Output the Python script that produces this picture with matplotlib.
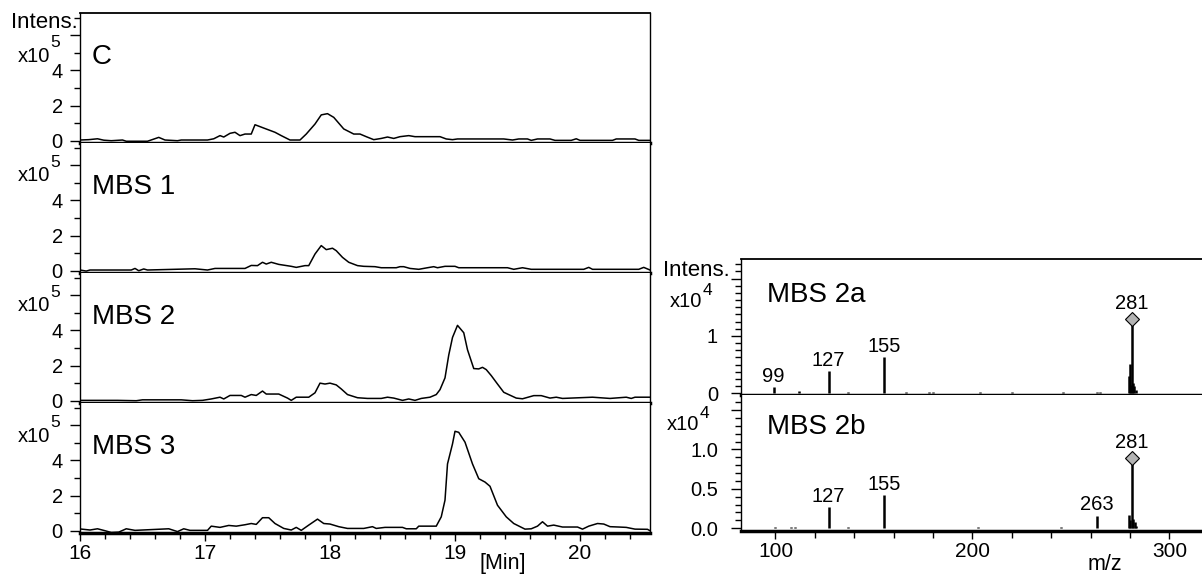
import matplotlib
matplotlib.use("Agg")
import matplotlib.pyplot as plt
from matplotlib.ticker import FixedLocator, FixedFormatter, MultipleLocator
from matplotlib.transforms import offset_copy

plt.rcParams["font.family"] = ["Liberation Sans", "DejaVu Sans"]

# extracted ion chromatograms, intensity in x10^5
c_time = [16.00, 16.07, 16.14, 16.19, 16.25, 16.34, 16.37, 16.54, 16.63, 16.68, 16.78, 16.81,
          17.02, 17.07, 17.12, 17.15, 17.20, 17.24, 17.28, 17.32, 17.37, 17.40, 17.47, 17.56,
          17.61, 17.68, 17.76, 17.81, 17.88, 17.93, 17.98, 18.03, 18.11, 18.19, 18.24, 18.29,
          18.35, 18.41, 18.46, 18.51, 18.56, 18.63, 18.68, 18.88, 18.93, 18.98, 19.02, 19.39,
          19.46, 19.51, 19.58, 19.61, 19.66, 19.76, 19.80, 19.93, 19.97, 20.00, 20.26, 20.29,
          20.44, 20.47, 20.56]
c_int = [0.04, 0.06, 0.11, 0.03, 0.0, 0.04, -0.03, -0.03, 0.19, 0.04, 0.0, 0.04,
         0.04, 0.11, 0.29, 0.21, 0.42, 0.48, 0.29, 0.38, 0.38, 0.91, 0.72, 0.48,
         0.29, 0.04, 0.04, 0.38, 0.95, 1.47, 1.54, 1.33, 0.67, 0.38, 0.38, 0.23,
         0.06, 0.13, 0.21, 0.13, 0.23, 0.29, 0.23, 0.23, 0.10, 0.06, 0.10, 0.10,
         0.04, 0.10, 0.10, 0.02, 0.10, 0.10, 0.02, 0.02, 0.11, 0.02, 0.02, 0.10,
         0.10, 0.02, 0.02]

mbs1_time = [16.00, 16.05, 16.08, 16.41, 16.44, 16.47, 16.51, 16.54, 16.92, 17.02, 17.08, 17.32,
             17.37, 17.42, 17.46, 17.49, 17.53, 17.59, 17.69, 17.73, 17.80, 17.83, 17.88, 17.93,
             17.97, 18.02, 18.05, 18.10, 18.15, 18.22, 18.27, 18.36, 18.41, 18.53, 18.56, 18.59,
             18.64, 18.71, 18.78, 18.83, 18.86, 18.92, 19.00, 19.03, 19.42, 19.47, 19.54, 19.61,
             20.03, 20.07, 20.10, 20.47, 20.51, 20.56]
mbs1_int = [0.04, -0.02, 0.04, 0.04, 0.13, 0.0, 0.10, 0.04, 0.11, 0.04, 0.13, 0.13,
            0.30, 0.29, 0.48, 0.38, 0.48, 0.36, 0.25, 0.19, 0.29, 0.29, 0.95, 1.43,
            1.20, 1.28, 1.14, 0.76, 0.48, 0.29, 0.25, 0.23, 0.17, 0.17, 0.23, 0.23,
            0.13, 0.08, 0.17, 0.23, 0.17, 0.25, 0.25, 0.17, 0.17, 0.08, 0.17, 0.08,
            0.08, 0.19, 0.08, 0.08, 0.19, 0.04]

mbs2_time = [16.00, 16.30, 16.45, 16.50, 16.81, 16.90, 16.98, 17.05, 17.12, 17.15, 17.20, 17.29,
             17.32, 17.37, 17.41, 17.46, 17.49, 17.59, 17.66, 17.69, 17.73, 17.83, 17.88, 17.92,
             17.96, 18.00, 18.05, 18.09, 18.14, 18.22, 18.30, 18.41, 18.46, 18.51, 18.58, 18.63,
             18.68, 18.73, 18.80, 18.85, 18.88, 18.92, 18.95, 18.98, 19.02, 19.07, 19.10, 19.15,
             19.19, 19.22, 19.25, 19.29, 19.34, 19.39, 19.42, 19.49, 19.54, 19.63, 19.69, 19.76,
             19.81, 19.86, 20.10, 20.24, 20.37, 20.41, 20.44, 20.56]
mbs2_int = [0.02, 0.02, 0.0, 0.05, 0.05, 0.0, 0.02, 0.10, 0.20, 0.10, 0.30, 0.30,
            0.20, 0.35, 0.30, 0.55, 0.38, 0.38, 0.15, 0.02, 0.20, 0.20, 0.45, 1.00,
            0.95, 1.00, 0.90, 0.67, 0.35, 0.17, 0.13, 0.13, 0.20, 0.15, 0.02, 0.10,
            0.02, 0.13, 0.20, 0.35, 0.63, 1.30, 2.60, 3.60, 4.29, 3.87, 2.90, 1.83,
            1.81, 1.90, 1.77, 1.43, 0.95, 0.48, 0.38, 0.15, 0.11, 0.29, 0.29, 0.15,
            0.20, 0.13, 0.20, 0.13, 0.20, 0.13, 0.20, 0.20]

mbs3_time = [16.00, 16.08, 16.14, 16.20, 16.25, 16.31, 16.37, 16.44, 16.71, 16.78, 16.83, 16.88,
             17.02, 17.05, 17.12, 17.19, 17.25, 17.32, 17.37, 17.41, 17.46, 17.51, 17.56, 17.63,
             17.69, 17.73, 17.77, 17.83, 17.90, 17.95, 18.00, 18.07, 18.14, 18.27, 18.34, 18.37,
             18.44, 18.58, 18.61, 18.69, 18.71, 18.85, 18.89, 18.92, 18.94, 18.98, 19.00, 19.03,
             19.08, 19.14, 19.19, 19.24, 19.28, 19.34, 19.41, 19.47, 19.56, 19.61, 19.66, 19.70,
             19.74, 19.79, 19.86, 19.98, 20.02, 20.07, 20.14, 20.19, 20.24, 20.31, 20.37, 20.44,
             20.54, 20.56]
mbs3_int = [0.10, 0.04, 0.11, 0.0, -0.10, -0.08, 0.11, 0.02, 0.11, -0.05, 0.11, 0.02,
            0.02, 0.26, 0.19, 0.30, 0.26, 0.34, 0.41, 0.36, 0.74, 0.74, 0.41, 0.13,
            0.04, 0.19, 0.02, 0.32, 0.66, 0.41, 0.38, 0.23, 0.13, 0.13, 0.23, 0.13,
            0.19, 0.19, 0.11, 0.11, 0.26, 0.26, 0.79, 1.74, 3.80, 4.94, 5.66, 5.60,
            5.04, 3.80, 2.96, 2.77, 2.53, 1.45, 0.79, 0.41, 0.09, 0.11, 0.26, 0.51,
            0.26, 0.32, 0.21, 0.21, 0.09, 0.26, 0.41, 0.38, 0.23, 0.21, 0.19, 0.09,
            0.08, 0.0]

chrom_names = ["C", "MBS 1", "MBS 2", "MBS 3"]

# mass spectra, intensity in x10^4
ms2a_mz = [99, 112, 127, 137, 155, 166, 178, 180, 204, 220, 246, 263, 264.5,
           279.3, 279.7, 280.3, 281, 281.6, 282.2, 282.8]
ms2a_int = [0.11, 0.04, 0.38, 0.02, 0.63, 0.02, 0.02, 0.02, 0.02, 0.02, 0.02, 0.02, 0.02,
            0.30, 0.51, 0.15, 1.19, 0.18, 0.12, 0.05]
ms2a_labels = [99, 127, 155, 281]

ms2b_mz = [100, 108, 110, 127, 137, 155, 203, 245, 263,
           279.6, 280.2, 281, 281.6, 282.3, 282.9]
ms2b_int = [0.02, 0.02, 0.02, 0.27, 0.02, 0.42, 0.02, 0.02, 0.16,
            0.17, 0.10, 0.82, 0.12, 0.08, 0.03]
ms2b_labels = [127, 155, 263, 281]

precursor_mz = 281

W, H = 1202, 574


def fx(px):
    return px / W


def fy(py):
    return 1 - py / H


def frame(ax, first, last):
    ax.spines["left"].set_linewidth(1.0)
    ax.spines["right"].set_linewidth(1.0)
    ax.spines["top"].set_linewidth(1.3)
    ax.spines["top"].set_visible(first)
    ax.spines["bottom"].set_linewidth(2.5)
    ax.tick_params(axis="both", which="both", direction="out", width=1.0, colors="k")
    ax.tick_params(axis="both", which="major", length=7)
    ax.tick_params(axis="both", which="minor", length=4.5)
    if not last:
        ax.tick_params(axis="x", which="both", bottom=False, labelbottom=False)


def draw_chromatograms(fig):
    traces = [(c_time, c_int), (mbs1_time, mbs1_int), (mbs2_time, mbs2_int), (mbs3_time, mbs3_int)]
    for i, (name, (t, y)) in enumerate(zip(chrom_names, traces)):
        top = 13 + 130 * i
        ax = fig.add_axes([fx(80), fy(top + 130), 570 / W, 130 / H])
        ax.plot(t, y, color="k", lw=1.1)
        ax.set_xlim(16, 20.56)
        ax.set_ylim(-0.13, 7.27)
        ax.yaxis.set_major_locator(FixedLocator([0, 2, 4, 6]))
        ax.yaxis.set_major_formatter(FixedFormatter(["0", "2", "4", ""]))
        ax.yaxis.set_minor_locator(FixedLocator([1, 3, 5, 7]))
        ax.tick_params(axis="y", labelsize=14.5, pad=5.5)
        frame(ax, i == 0, i == 3)
        if i == 3:
            ax.xaxis.set_major_locator(MultipleLocator(1))
            ax.xaxis.set_minor_locator(MultipleLocator(0.2))
            ax.tick_params(axis="x", which="major", length=6, labelsize=15, pad=2)
            ax.tick_params(axis="x", which="minor", length=4.5)
        ax.text(0.021, 0.665, name, transform=ax.transAxes, fontsize=20, va="center", ha="left")
        ytxt = top + (43 if i == 0 else 33)
        fig.text(fx(50), fy(ytxt), "x10", fontsize=14.5, ha="right", va="center")
        fig.text(fx(50.5), fy(ytxt - 13.5), "5", fontsize=12.5, ha="left", va="center")
    fig.text(fx(78), fy(22.5), "Intens.", fontsize=16, ha="right", va="center")
    fig.text(fx(503), fy(563), "[Min]", fontsize=15.5, ha="center", va="center")


def draw_spectra(fig):
    spectra = [
        ("MBS 2a", ms2a_mz, ms2a_int, ms2a_labels, (-0.03, 2.34), 0.735),
        ("MBS 2b", ms2b_mz, ms2b_int, ms2b_labels, (-0.035, 1.69), 0.765),
    ]
    for j, (name, mz, inten, labels, ylim, label_y) in enumerate(spectra):
        top = 259 + 136 * j
        ax = fig.add_axes([fx(741), fy(top + 136), 461 / W, 136 / H])
        ax.vlines(mz, 0, inten, color="k", lw=1.8)
        ax.set_xlim(82.5, 316.5)
        ax.set_ylim(*ylim)
        if j == 0:
            ax.yaxis.set_major_locator(FixedLocator([0, 1, 2]))
            ax.yaxis.set_major_formatter(FixedFormatter(["0", "1", ""]))
            ax.yaxis.set_minor_locator(MultipleLocator(0.125))
        else:
            ax.yaxis.set_major_locator(FixedLocator([0, 0.5, 1.0, 1.5]))
            ax.yaxis.set_major_formatter(FixedFormatter(["0.0", "0.5", "1.0", ""]))
            ax.yaxis.set_minor_locator(MultipleLocator(0.1))
        ax.tick_params(axis="y", labelsize=14.5, pad=9.5)
        frame(ax, j == 0, j == 1)
        ax.spines["right"].set_visible(False)
        if j == 1:
            ax.xaxis.set_major_locator(MultipleLocator(100))
            ax.xaxis.set_minor_locator(MultipleLocator(20))
            ax.tick_params(axis="x", which="major", length=6, labelsize=15, pad=2)
            ax.tick_params(axis="x", which="minor", length=5)

        peak = dict(zip(mz, inten))
        for m in labels:
            dy = 8.5 if m == precursor_mz else 1.0
            ax.annotate(str(m), (m, peak[m]), xytext=(0, dy), textcoords="offset points",
                        ha="center", va="bottom", fontsize=14.5)
        ax.plot([precursor_mz], [peak[precursor_mz]], marker="D", ms=7.5, mfc="#b4b4b4",
                mec="k", mew=0.8, ls="none",
                transform=offset_copy(ax.transData, fig=fig, y=4.2, units="points"))
        ax.text(0.056, label_y, name, transform=ax.transAxes, fontsize=20, va="center", ha="left")

    fig.text(fx(730), fy(270), "Intens.", fontsize=16, ha="right", va="center")
    for xr, yc in [(702, 301.7), (699, 425)]:
        fig.text(fx(xr), fy(yc), "x10", fontsize=14.5, ha="right", va="center")
        fig.text(fx(xr + 0.5), fy(yc - 11), "4", fontsize=12.5, ha="left", va="center")
    fig.text(fx(1104.6), fy(564), "m/z", fontsize=15.5, ha="center", va="center")


def main():
    fig = plt.figure(figsize=(W / 100, H / 100), dpi=100)
    draw_chromatograms(fig)
    draw_spectra(fig)
    fig.savefig("out.png", dpi=100)
    plt.close(fig)


if __name__ == "__main__":
    main()
